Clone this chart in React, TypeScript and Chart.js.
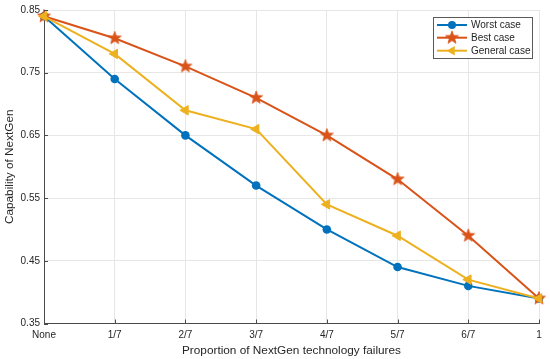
import React, { useEffect, useRef } from "react";
import { Chart, registerables } from "chart.js";

Chart.register(...registerables);

const categories = ["None", "1/7", "2/7", "3/7", "4/7", "5/7", "6/7", "1"];
const worstCase = [0.84, 0.74, 0.65, 0.57, 0.5, 0.44, 0.41, 0.39];
const bestCase = [0.84, 0.805, 0.76, 0.71, 0.65, 0.58, 0.49, 0.39];
const generalCase = [0.84, 0.78, 0.69, 0.66, 0.54, 0.49, 0.42, 0.39];
const seriesNames = ["Worst case", "Best case", "General case"];
const yTicks = [0.35, 0.45, 0.55, 0.65, 0.75, 0.85];

const BLUE = "#0072BD";
const RED = "#D95319";
const YELLOW = "#EDB120";
const FONT = "'Liberation Sans', Arial, sans-serif";

function makeStar(color: string, outer: number, inner: number): HTMLCanvasElement {
  const size = Math.ceil(outer * 2 + 2);
  const c = document.createElement("canvas");
  c.width = size;
  c.height = size;
  const ctx = c.getContext("2d")!;
  const cx = size / 2;
  const cy = size / 2;
  ctx.beginPath();
  for (let i = 0; i < 10; i++) {
    const r = i % 2 === 0 ? outer : inner;
    const a = -Math.PI / 2 + (i * Math.PI) / 5;
    const x = cx + Math.cos(a) * r;
    const y = cy + Math.sin(a) * r;
    if (i === 0) ctx.moveTo(x, y);
    else ctx.lineTo(x, y);
  }
  ctx.closePath();
  ctx.fillStyle = color;
  ctx.fill();
  ctx.strokeStyle = color;
  ctx.lineWidth = 0.8;
  ctx.stroke();
  return c;
}

export default function App() {
  const ref = useRef<HTMLCanvasElement | null>(null);

  useEffect(() => {
    if (!ref.current) return;
    const star = makeStar(RED, 6.8, 2.8);

    const tickPlugin = {
      id: "inwardTicks",
      afterDraw(chart: any) {
        const ctx = chart.ctx;
        const xs = chart.scales.x;
        const ys = chart.scales.y;
        const area = chart.chartArea;
        ctx.save();
        ctx.strokeStyle = "#4a4a4a";
        ctx.lineWidth = 1;
        ctx.beginPath();
        for (let i = 0; i < categories.length; i++) {
          const x = Math.round(xs.getPixelForValue(i)) + 0.5;
          ctx.moveTo(x, area.bottom);
          ctx.lineTo(x, area.bottom - 4);
        }
        for (const v of yTicks) {
          const y = Math.round(ys.getPixelForValue(v)) + 0.5;
          ctx.moveTo(area.left, y);
          ctx.lineTo(area.left + 4, y);
        }
        ctx.stroke();

        // legend
        const bx = 433.5, by = 17.5, bw = 99, bh = 41;
        ctx.fillStyle = "#ffffff";
        ctx.fillRect(bx, by, bw, bh);
        ctx.strokeStyle = "#5a5a5a";
        ctx.lineWidth = 1;
        ctx.strokeRect(bx, by, bw, bh);
        const rows = [25, 37.7, 50.7];
        const colors = [BLUE, RED, YELLOW];
        ctx.font = `10px ${FONT}`;
        ctx.textBaseline = "middle";
        ctx.textAlign = "left";
        rows.forEach((ry, i) => {
          ctx.strokeStyle = colors[i];
          ctx.lineWidth = 2;
          ctx.beginPath();
          ctx.moveTo(437, ry);
          ctx.lineTo(467, ry);
          ctx.stroke();
          const mx = 452;
          ctx.fillStyle = colors[i];
          if (i === 0) {
            ctx.beginPath();
            ctx.arc(mx, ry, 4, 0, Math.PI * 2);
            ctx.fill();
          } else if (i === 1) {
            ctx.drawImage(star, mx - star.width / 2, ry - star.height / 2);
          } else {
            const r = 5.5;
            ctx.beginPath();
            ctx.moveTo(mx - r, ry);
            ctx.lineTo(mx + r * 0.5, ry - r * 0.866);
            ctx.lineTo(mx + r * 0.5, ry + r * 0.866);
            ctx.closePath();
            ctx.fill();
          }
          ctx.fillStyle = "#262626";
          ctx.fillText(seriesNames[i], 471, ry + 0.5);
        });
        ctx.restore();
      },
    };

    const chart = new Chart(ref.current, {
      type: "line",
      data: {
        labels: categories,
        datasets: [
          {
            label: seriesNames[0],
            data: worstCase,
            borderColor: BLUE,
            backgroundColor: BLUE,
            borderWidth: 2,
            pointStyle: "circle",
            pointRadius: 4.3,
            pointBorderWidth: 0,
            tension: 0,
            clip: false as any,
            order: 3,
          },
          {
            label: seriesNames[1],
            data: bestCase,
            borderColor: RED,
            backgroundColor: RED,
            borderWidth: 2,
            pointStyle: star as any,
            pointRadius: 6,
            tension: 0,
            clip: false as any,
            order: 2,
          },
          {
            label: seriesNames[2],
            data: generalCase,
            borderColor: YELLOW,
            backgroundColor: YELLOW,
            borderWidth: 2,
            pointStyle: "triangle",
            pointRotation: -90,
            pointRadius: 5.5,
            pointBorderWidth: 1,
            tension: 0,
            clip: false as any,
            order: 1,
          },
        ],
      },
      options: {
        animation: false,
        responsive: false,
        events: [],
        layout: { padding: { left: 0, right: 11, top: 9, bottom: 0 } },
        plugins: {
          legend: { display: false },
          tooltip: { enabled: false },
        },
        scales: {
          x: {
            type: "category",
            offset: false,
            grid: {
              color: "#e6e6e6",
              drawTicks: false,
              offset: false,
            },
            border: { color: "#4a4a4a", width: 1 },
            ticks: {
              color: "#262626",
              font: { family: FONT, size: 10 },
              padding: 6,
              maxRotation: 0,
              autoSkip: false,
            },
            title: {
              display: true,
              text: "Proportion of NextGen technology failures",
              color: "#262626",
              font: { family: FONT, size: 11.8 },
              padding: { top: 0, bottom: 1.5 },
            },
            afterFit(scale: any) {
              scale.height = 35.5;
            },
          },
          y: {
            min: 0.35,
            max: 0.85,
            grid: { color: "#e6e6e6", drawTicks: false },
            border: { color: "#4a4a4a", width: 1 },
            afterBuildTicks(scale: any) {
              scale.ticks = yTicks.map((v) => ({ value: v }));
            },
            ticks: {
              color: "#262626",
              font: { family: FONT, size: 10 },
              padding: 4,
              callback: (v: any) => Number(v).toFixed(2),
            },
            title: {
              display: true,
              text: "Capability of NextGen",
              color: "#262626",
              font: { family: FONT, size: 11.8 },
              padding: { top: 3, bottom: 0 },
            },
            afterFit(scale: any) {
              scale.width = 44;
            },
          },
        },
      },
      plugins: [tickPlugin],
    });
    return () => chart.destroy();
  }, []);

  return (
    <div style={{ position: "absolute", left: 0, top: 0, width: 550, height: 359, background: "#fff" }}>
      <canvas ref={ref} width={550} height={359} style={{ display: "block" }} />
    </div>
  );
}
